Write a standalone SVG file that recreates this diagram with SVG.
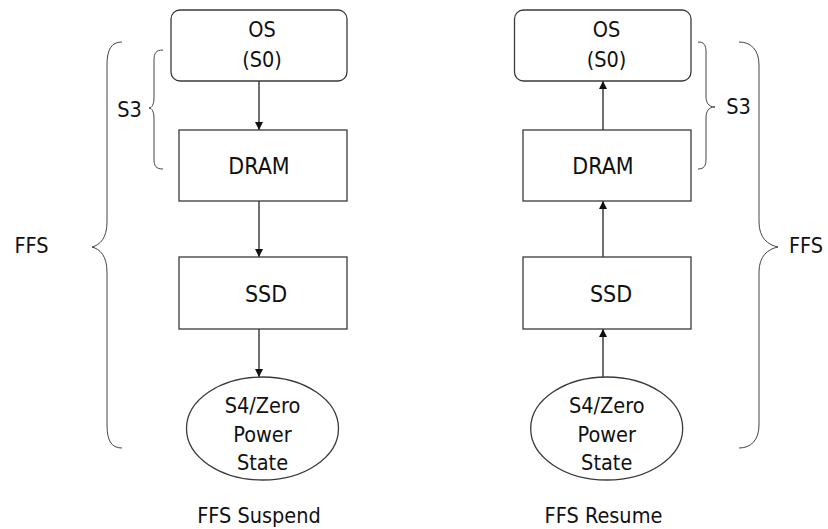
<svg xmlns="http://www.w3.org/2000/svg" width="828" height="529" viewBox="0 0 828 529">
<style>
.box{fill:#fff;stroke:#3a3a3a;stroke-width:1.3}
.brace{fill:none;stroke:#444;stroke-width:1}
.conn{stroke:#222;stroke-width:1.3;fill:none}
text{font-family:"DejaVu Sans Condensed","DejaVu Sans","Liberation Sans",sans-serif;font-stretch:condensed;font-size:21.5px;fill:#111;text-anchor:middle}
.big{font-size:23px}
</style>
<defs>
<marker id="ah" viewBox="0 0 10 10" refX="10" refY="5" markerWidth="8" markerHeight="8" markerUnits="userSpaceOnUse" orient="auto">
<path d="M0,0 L10,5 L0,10 z" fill="#111"/>
</marker>
</defs>
<rect width="828" height="529" fill="#fff"/>

<g id="connectors">
<line class="conn" x1="259" y1="81" x2="259" y2="130" marker-end="url(#ah)"/>
<line class="conn" x1="259" y1="201" x2="259" y2="257" marker-end="url(#ah)"/>
<line class="conn" x1="259" y1="329" x2="259" y2="377" marker-end="url(#ah)"/>
<line class="conn" x1="603" y1="130" x2="603" y2="81" marker-end="url(#ah)"/>
<line class="conn" x1="603" y1="257" x2="603" y2="201" marker-end="url(#ah)"/>
<line class="conn" x1="603" y1="377" x2="603" y2="329" marker-end="url(#ah)"/>
</g>

<g id="os-left">
<rect class="box" x="171" y="10" width="176" height="71" rx="9"/>
<text x="262" y="37">OS</text>
<text x="262" y="67">(S0)</text>
</g>
<g id="dram-left">
<rect class="box" x="179" y="130" width="168" height="71"/>
<text class="big" x="259" y="173.5">DRAM</text>
</g>
<g id="ssd-left">
<rect class="box" x="179" y="257" width="168" height="72"/>
<text class="big" x="266" y="301.5">SSD</text>
</g>
<g id="s4-left">
<ellipse class="box" cx="262.5" cy="428.5" rx="76" ry="51.5"/>
<text x="262.5" y="413">S4/Zero</text>
<text x="262.5" y="442">Power</text>
<text x="262.5" y="470">State</text>
</g>

<g id="os-right">
<rect class="box" x="514.5" y="10" width="176.5" height="71" rx="9"/>
<text x="606.5" y="37">OS</text>
<text x="606.5" y="67">(S0)</text>
</g>
<g id="dram-right">
<rect class="box" x="523" y="130" width="168" height="71"/>
<text class="big" x="603" y="173.5">DRAM</text>
</g>
<g id="ssd-right">
<rect class="box" x="523" y="257" width="168" height="72"/>
<text class="big" x="611" y="301.5">SSD</text>
</g>
<g id="s4-right">
<ellipse class="box" cx="606.7" cy="428.5" rx="76" ry="51.5"/>
<text x="606.7" y="413">S4/Zero</text>
<text x="606.7" y="442">Power</text>
<text x="606.7" y="470">State</text>
</g>

<g id="brace-s3-left">
<path class="brace" d="M163,50 C156,50 154,53 154,60 L154,98 C154,104 152,108 149,108 C152,108 154,112 154,118 L154,159 C154,166 156,169 163,169"/>
<text x="129.5" y="117">S3</text>
</g>
<g id="brace-ffs-left">
<path class="brace" d="M122,42 C111,42 107,50 107,65 L107,222 C107,238 100,245 92,247 C100,249 107,256 107,272 L107,425 C107,440 111,448 122,448"/>
<text x="31.5" y="253">FFS</text>
</g>
<g id="brace-s3-right">
<path class="brace" d="M698,42 C704,42 706,45 706,52 L706,96 C706,102 708,107 715,107 C708,107 706,112 706,118 L706,159 C706,166 704,169 698,169"/>
<text x="738.5" y="114">S3</text>
</g>
<g id="brace-ffs-right">
<path class="brace" d="M739,42 C751,42 759,50 759,65 L759,222 C759,238 768,245 778,247 C768,249 759,256 759,272 L759,425 C759,440 751,448 739,448"/>
<text x="806" y="253">FFS</text>
</g>

<g id="labels">
<text x="259" y="523">FFS Suspend</text>
<text x="603.5" y="523">FFS Resume</text>
</g>
</svg>
